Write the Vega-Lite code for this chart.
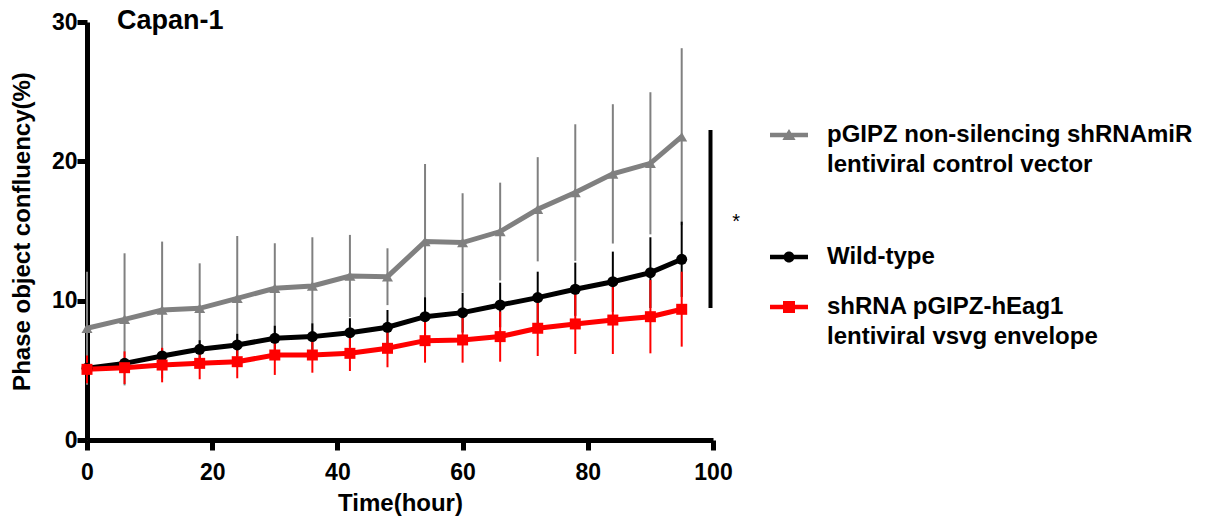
{
  "$schema": "https://vega.github.io/schema/vega-lite/v6.json",
  "width": 626,
  "height": 418,
  "autosize": {"type": "none"},
  "padding": {"left": 87, "top": 22, "right": 503, "bottom": 77},
  "background": "white",
  "config": {"view": {"stroke": null}, "font": "Liberation Sans"},
  "title": {"text": "Capan-1", "anchor": "start", "frame": "group", "fontSize": 27, "fontWeight": "bold", "font": "Liberation Sans", "color": "black", "dx": 30, "offset": -24},
  "datasets": {
    "series": [
      {"g": "pGIPZ non-silencing shRNAmiR lentiviral control vector", "t": 0, "y": 8.02, "lo": 3.96, "hi": 12.08},
      {"g": "pGIPZ non-silencing shRNAmiR lentiviral control vector", "t": 6, "y": 8.66, "lo": 3.92, "hi": 13.4},
      {"g": "pGIPZ non-silencing shRNAmiR lentiviral control vector", "t": 12, "y": 9.33, "lo": 4.42, "hi": 14.24},
      {"g": "pGIPZ non-silencing shRNAmiR lentiviral control vector", "t": 18, "y": 9.45, "lo": 6.22, "hi": 12.68},
      {"g": "pGIPZ non-silencing shRNAmiR lentiviral control vector", "t": 24, "y": 10.17, "lo": 5.7, "hi": 14.64},
      {"g": "pGIPZ non-silencing shRNAmiR lentiviral control vector", "t": 30, "y": 10.89, "lo": 7.66, "hi": 14.12},
      {"g": "pGIPZ non-silencing shRNAmiR lentiviral control vector", "t": 36, "y": 11.06, "lo": 7.57, "hi": 14.55},
      {"g": "pGIPZ non-silencing shRNAmiR lentiviral control vector", "t": 42, "y": 11.77, "lo": 8.82, "hi": 14.72},
      {"g": "pGIPZ non-silencing shRNAmiR lentiviral control vector", "t": 48, "y": 11.72, "lo": 9.68, "hi": 13.76},
      {"g": "pGIPZ non-silencing shRNAmiR lentiviral control vector", "t": 54, "y": 14.24, "lo": 8.67, "hi": 19.81},
      {"g": "pGIPZ non-silencing shRNAmiR lentiviral control vector", "t": 60, "y": 14.17, "lo": 10.63, "hi": 17.71},
      {"g": "pGIPZ non-silencing shRNAmiR lentiviral control vector", "t": 66, "y": 14.96, "lo": 11.45, "hi": 18.47},
      {"g": "pGIPZ non-silencing shRNAmiR lentiviral control vector", "t": 72, "y": 16.56, "lo": 12.82, "hi": 20.3},
      {"g": "pGIPZ non-silencing shRNAmiR lentiviral control vector", "t": 78, "y": 17.76, "lo": 12.86, "hi": 22.66},
      {"g": "pGIPZ non-silencing shRNAmiR lentiviral control vector", "t": 84, "y": 19.1, "lo": 14.1, "hi": 24.1},
      {"g": "pGIPZ non-silencing shRNAmiR lentiviral control vector", "t": 90, "y": 19.86, "lo": 14.76, "hi": 24.96},
      {"g": "pGIPZ non-silencing shRNAmiR lentiviral control vector", "t": 95, "y": 21.77, "lo": 15.42, "hi": 28.12},
      {"g": "Wild-type", "t": 0, "y": 5.15, "lo": 4.85, "hi": 5.45},
      {"g": "Wild-type", "t": 6, "y": 5.5, "lo": 5.15, "hi": 5.85},
      {"g": "Wild-type", "t": 12, "y": 6.03, "lo": 5.48, "hi": 6.58},
      {"g": "Wild-type", "t": 18, "y": 6.51, "lo": 5.86, "hi": 7.16},
      {"g": "Wild-type", "t": 24, "y": 6.82, "lo": 6.02, "hi": 7.62},
      {"g": "Wild-type", "t": 30, "y": 7.3, "lo": 6.4, "hi": 8.2},
      {"g": "Wild-type", "t": 36, "y": 7.42, "lo": 6.47, "hi": 8.37},
      {"g": "Wild-type", "t": 42, "y": 7.7, "lo": 6.66, "hi": 8.74},
      {"g": "Wild-type", "t": 48, "y": 8.09, "lo": 6.85, "hi": 9.33},
      {"g": "Wild-type", "t": 54, "y": 8.85, "lo": 7.46, "hi": 10.24},
      {"g": "Wild-type", "t": 60, "y": 9.14, "lo": 7.71, "hi": 10.57},
      {"g": "Wild-type", "t": 66, "y": 9.69, "lo": 8.09, "hi": 11.29},
      {"g": "Wild-type", "t": 72, "y": 10.22, "lo": 8.36, "hi": 12.08},
      {"g": "Wild-type", "t": 78, "y": 10.82, "lo": 8.91, "hi": 12.73},
      {"g": "Wild-type", "t": 84, "y": 11.36, "lo": 9.2, "hi": 13.52},
      {"g": "Wild-type", "t": 90, "y": 12.01, "lo": 9.47, "hi": 14.55},
      {"g": "Wild-type", "t": 95, "y": 12.97, "lo": 10.27, "hi": 15.67},
      {"g": "shRNA pGIPZ-hEag1 lentiviral vsvg envelope", "t": 0, "y": 5.07, "lo": 4.07, "hi": 6.07},
      {"g": "shRNA pGIPZ-hEag1 lentiviral vsvg envelope", "t": 6, "y": 5.19, "lo": 4.02, "hi": 6.36},
      {"g": "shRNA pGIPZ-hEag1 lentiviral vsvg envelope", "t": 12, "y": 5.38, "lo": 4.14, "hi": 6.62},
      {"g": "shRNA pGIPZ-hEag1 lentiviral vsvg envelope", "t": 18, "y": 5.5, "lo": 4.36, "hi": 6.64},
      {"g": "shRNA pGIPZ-hEag1 lentiviral vsvg envelope", "t": 24, "y": 5.62, "lo": 4.43, "hi": 6.81},
      {"g": "shRNA pGIPZ-hEag1 lentiviral vsvg envelope", "t": 30, "y": 6.1, "lo": 4.67, "hi": 7.53},
      {"g": "shRNA pGIPZ-hEag1 lentiviral vsvg envelope", "t": 36, "y": 6.1, "lo": 4.83, "hi": 7.37},
      {"g": "shRNA pGIPZ-hEag1 lentiviral vsvg envelope", "t": 42, "y": 6.22, "lo": 4.95, "hi": 7.49},
      {"g": "shRNA pGIPZ-hEag1 lentiviral vsvg envelope", "t": 48, "y": 6.58, "lo": 5.22, "hi": 7.94},
      {"g": "shRNA pGIPZ-hEag1 lentiviral vsvg envelope", "t": 54, "y": 7.13, "lo": 5.55, "hi": 8.71},
      {"g": "shRNA pGIPZ-hEag1 lentiviral vsvg envelope", "t": 60, "y": 7.18, "lo": 5.55, "hi": 8.81},
      {"g": "shRNA pGIPZ-hEag1 lentiviral vsvg envelope", "t": 66, "y": 7.42, "lo": 5.62, "hi": 9.22},
      {"g": "shRNA pGIPZ-hEag1 lentiviral vsvg envelope", "t": 72, "y": 8.02, "lo": 6.03, "hi": 10.01},
      {"g": "shRNA pGIPZ-hEag1 lentiviral vsvg envelope", "t": 78, "y": 8.33, "lo": 6.17, "hi": 10.49},
      {"g": "shRNA pGIPZ-hEag1 lentiviral vsvg envelope", "t": 84, "y": 8.61, "lo": 6.17, "hi": 11.05},
      {"g": "shRNA pGIPZ-hEag1 lentiviral vsvg envelope", "t": 90, "y": 8.85, "lo": 6.22, "hi": 11.48},
      {"g": "shRNA pGIPZ-hEag1 lentiviral vsvg envelope", "t": 95, "y": 9.38, "lo": 6.7, "hi": 12.08}
    ]
  },
  "layer": [
    {
      "data": {"name": "series"},
      "encoding": {
        "x": {"field": "t", "type": "quantitative", "scale": {"domain": [0, 100]},
          "axis": {"title": "Time(hour)", "values": [0, 20, 40, 60, 80, 100], "grid": false, "labelFlush": false, "domainColor": "black", "domainWidth": 5, "tickColor": "black", "tickWidth": 5, "tickSize": 10, "labelFont": "Liberation Sans", "labelFontSize": 23, "labelFontWeight": "bold", "labelColor": "black", "labelPadding": 11, "titleFont": "Liberation Sans", "titleFontSize": 24, "titleFontWeight": "bold", "titleColor": "black", "titlePadding": 7}},
        "color": {"field": "g", "type": "nominal",
          "scale": {"domain": ["pGIPZ non-silencing shRNAmiR lentiviral control vector", "Wild-type", "shRNA pGIPZ-hEag1 lentiviral vsvg envelope"], "range": ["#808080", "#000000", "#ff0000"]},
          "legend": {
            "title": null, "orient": "none", "legendX": 690, "legendY": 101,
            "symbolSize": 400, "labelOffset": 26, "rowPadding": 26, "labelLimit": 700,
            "labelFont": "Liberation Sans", "labelFontSize": 24, "labelFontWeight": "bold", "labelColor": "black",
            "labelExpr": "datum.value === 'Wild-type' ? 'Wild-type' : (datum.value === 'shRNA pGIPZ-hEag1 lentiviral vsvg envelope' ? ['shRNA pGIPZ-hEag1', 'lentiviral vsvg envelope'] : ['pGIPZ non-silencing shRNAmiR', 'lentiviral control vector'])",
            "encode": {
              "labels": {"update": {"lineHeight": {"value": 30}}},
              "symbols": {"update": {
                "shape": {"signal": "datum.value === 'Wild-type' ? 'M-1.9,-0.23H1.9V0.23H-1.9Z M0.55,0 A0.55,0.55 0 1,1 -0.55,0 A0.55,0.55 0 1,1 0.55,0 Z' : (datum.value === 'shRNA pGIPZ-hEag1 lentiviral vsvg envelope' ? 'M-1.9,-0.23H1.9V0.23H-1.9Z M-0.6,-0.6H0.6V0.6H-0.6Z' : 'M-1.9,-0.23H1.9V0.23H-1.9Z M0,-0.6L0.66,0.5L-0.66,0.5Z M0,8.4')"},
                "fill": {"signal": "scale('color', datum.value)"},
                "strokeWidth": {"value": 0},
                "opacity": {"value": 1}
              }}
            }
          }
        }
      },
      "layer": [
        {
          "mark": {"type": "rule", "strokeWidth": 2},
          "encoding": {
            "y": {"field": "lo", "type": "quantitative", "scale": {"domain": [0, 30]},
              "axis": {"title": "Phase object confluency(%)", "values": [0, 10, 20, 30], "grid": false, "domainColor": "black", "domainWidth": 5, "tickColor": "black", "tickWidth": 5, "tickSize": 10, "labelFont": "Liberation Sans", "labelFontSize": 23, "labelFontWeight": "bold", "labelColor": "black", "labelPadding": 0, "titleFont": "Liberation Sans", "titleFontSize": 24, "titleFontWeight": "bold", "titleColor": "black", "titlePadding": 17}},
            "y2": {"field": "hi"}
          }
        },
        {
          "mark": {"type": "line", "strokeWidth": 5},
          "encoding": {"y": {"field": "y", "type": "quantitative"}}
        },
        {
          "transform": [{"filter": "datum.g === 'pGIPZ non-silencing shRNAmiR lentiviral control vector'"}],
          "mark": {"type": "point", "shape": "triangle-up", "filled": true, "opacity": 1, "size": 121},
          "encoding": {"y": {"field": "y", "type": "quantitative"}}
        },
        {
          "transform": [{"filter": "datum.g === 'Wild-type'"}],
          "mark": {"type": "point", "shape": "circle", "filled": true, "opacity": 1, "size": 121},
          "encoding": {"y": {"field": "y", "type": "quantitative"}}
        },
        {
          "transform": [{"filter": "datum.g === 'shRNA pGIPZ-hEag1 lentiviral vsvg envelope'"}],
          "mark": {"type": "point", "shape": "square", "filled": true, "opacity": 1, "size": 121},
          "encoding": {"y": {"field": "y", "type": "quantitative"}}
        }
      ]
    },
    {
      "data": {"values": [{"x": 99.6, "y1": 9.48, "y2": 22.25}]},
      "mark": {"type": "rule", "strokeWidth": 4, "color": "black"},
      "encoding": {
        "x": {"field": "x", "type": "quantitative"},
        "y": {"field": "y1", "type": "quantitative"},
        "y2": {"field": "y2"}
      }
    },
    {
      "data": {"values": [{"x": 103.7, "y": 15.2, "label": "*"}]},
      "mark": {"type": "text", "fontSize": 20, "font": "Liberation Sans", "color": "black", "align": "center", "baseline": "alphabetic"},
      "encoding": {
        "x": {"field": "x", "type": "quantitative"},
        "y": {"field": "y", "type": "quantitative"},
        "text": {"field": "label"}
      }
    }
  ]
}
